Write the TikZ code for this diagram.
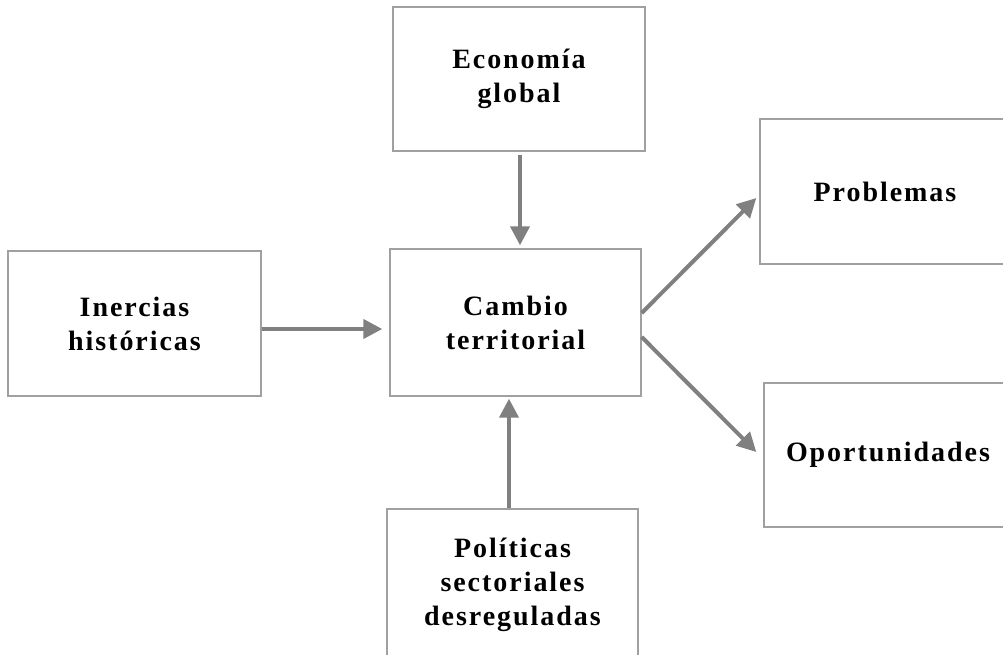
\documentclass[tikz,border=0pt]{standalone}
\usepackage{fontspec}
\setmainfont{Liberation Serif}[LetterSpace=7, BoldFont={Liberation Serif Bold}]
\usetikzlibrary{arrows.meta}
\definecolor{boxgray}{RGB}{160,160,160}
\definecolor{arrgray}{RGB}{128,128,128}
\tikzset{
  box/.style={draw=boxgray, line width=1.4pt, rectangle, align=center,
    inner sep=0pt, font=\fontsize{28}{34}\selectfont\bfseries},
  arr/.style={draw=arrgray, line width=4pt,
    -{Triangle[length=19pt,width=19pt]}},
}
\begin{document}
\begin{tikzpicture}[x=1pt,y=-1pt]
\useasboundingbox (0,0) rectangle (1003,654);
\clip (0,0) rectangle (1003,654);
\node[box, minimum width=252pt, minimum height=144pt] (eco) at (519,79) {Economía\\global};
\node[box, minimum width=251pt, minimum height=147pt] (cam) at (515.5,322.5) {Cambio\\territorial};
\node[box, minimum width=253pt, minimum height=145pt] (ine) at (134.5,323.5) {Inercias\\históricas};
\node[box, minimum width=251pt, minimum height=152pt] (pol) at (512.5,585) {Políticas\\sectoriales\\desreguladas};
\node[box, minimum width=250pt, minimum height=145pt] (pro) at (885,191.5) {Problemas};
\node[box, minimum width=248pt, minimum height=144pt] (opo) at (888,455) {Oportunidades};

\draw[arr] ([yshift=-5.5pt]ine.east) -- ([xshift=-7pt,yshift=-6.5pt]cam.west);
\draw[arr] ([xshift=1pt,yshift=-3pt]eco.south) -- ([xshift=4.5pt,yshift=3pt]cam.north);
\draw[arr] ([xshift=-3.5pt]pol.north) -- ([xshift=-6.5pt,yshift=-2pt]cam.south);
\draw[arr] ([yshift=9.5pt]cam.east) -- ([xshift=-3pt,yshift=-6.5pt]pro.west);
\draw[arr] ([yshift=-14.5pt]cam.east) -- ([xshift=-7pt,yshift=3pt]opo.west);
\end{tikzpicture}
\end{document}
